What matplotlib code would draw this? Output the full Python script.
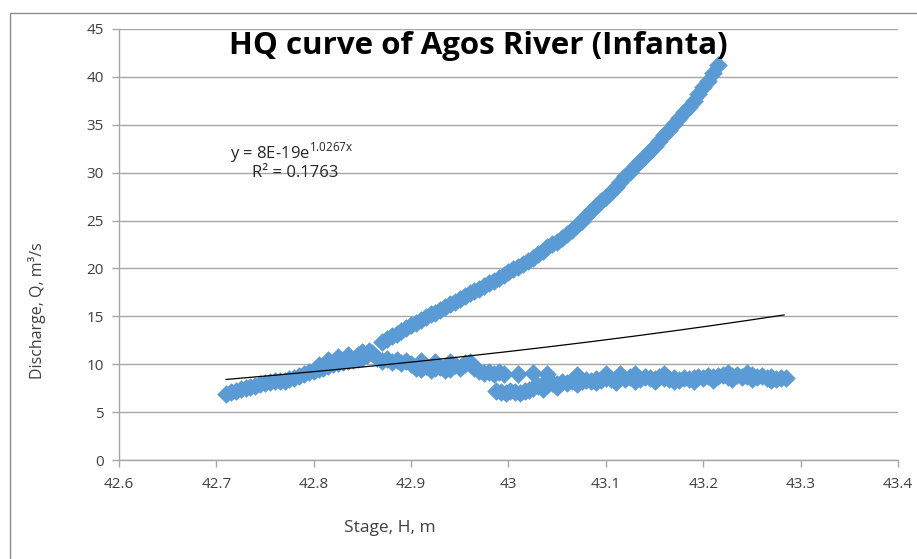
import matplotlib.pyplot as plt
from matplotlib.patches import Rectangle
import numpy as np

plt.rcParams["font.family"] = ["Open Sans", "DejaVu Sans"]
plt.rcParams["mathtext.fontset"] = "custom"
plt.rcParams["mathtext.rm"] = "Open Sans"

# rising limb at low stage (two readings at some stages)
rise_h = [42.710, 42.715, 42.720, 42.725, 42.730, 42.735, 42.740, 42.745, 42.750, 42.755,
          42.760, 42.765, 42.770, 42.775, 42.780, 42.785, 42.790, 42.795, 42.800, 42.805,
          42.810, 42.815, 42.820, 42.825, 42.830, 42.835, 42.840, 42.845, 42.850, 42.855,
          42.860, 42.805, 42.815, 42.825, 42.835, 42.845, 42.850, 42.857]
rise_q = [6.9, 7.1, 7.2, 7.4, 7.5, 7.6, 7.7, 7.9, 8.0, 8.1,
          8.2, 8.3, 8.3, 8.5, 8.6, 8.8, 9.0, 9.2, 9.3, 9.5,
          9.6, 9.8, 10.0, 10.1, 10.2, 10.3, 10.4, 10.5, 10.7, 11.0,
          11.2, 9.9, 10.4, 10.8, 11.0, 11.0, 11.3, 11.4]

# upper rating branch
upper_h = [42.870, 42.875, 42.880, 42.885, 42.890, 42.895, 42.900, 42.905, 42.910, 42.915,
           42.920, 42.925, 42.930, 42.935, 42.940, 42.945, 42.950, 42.955, 42.960, 42.965,
           42.970, 42.975, 42.980, 42.985, 42.990, 42.995, 43.000, 43.005, 43.010, 43.015,
           43.020, 43.025, 43.030, 43.035, 43.040, 43.045, 43.050, 43.055, 43.060, 43.065,
           43.070, 43.075, 43.080, 43.085, 43.090, 43.095, 43.100, 43.105, 43.110, 43.115,
           43.120, 43.125, 43.130, 43.135, 43.140, 43.145, 43.150, 43.155, 43.160, 43.165,
           43.170, 43.175, 43.180, 43.185, 43.190, 43.195, 43.200, 43.205, 43.210, 43.215]
upper_q = [12.3, 12.6, 12.9, 13.2, 13.5, 13.8, 14.1, 14.3, 14.6, 14.9,
           15.2, 15.4, 15.7, 16.0, 16.3, 16.5, 16.8, 17.1, 17.4, 17.6,
           17.9, 18.2, 18.5, 18.7, 19.0, 19.3, 19.6, 19.9, 20.2, 20.5,
           20.8, 21.1, 21.5, 21.8, 22.2, 22.5, 22.8, 23.2, 23.6, 24.0,
           24.5, 25.0, 25.5, 26.0, 26.5, 27.0, 27.5, 28.0, 28.5, 29.0,
           29.6, 30.1, 30.7, 31.2, 31.7, 32.3, 32.8, 33.3, 33.9, 34.5,
           35.1, 35.7, 36.3, 36.9, 37.5, 38.2, 38.9, 39.6, 40.4, 41.2]

# falling limb and low flat branch
lower_h = [42.865, 42.870, 42.875, 42.880, 42.885, 42.890, 42.895, 42.900, 42.905, 42.910,
           42.915, 42.920, 42.925, 42.930, 42.935, 42.940, 42.945, 42.950, 42.955, 42.960,
           42.965, 42.970, 42.975, 42.980, 42.985, 42.990, 42.995,
           42.910, 42.925, 42.940, 42.955,
           43.010, 43.025, 43.040,
           42.987, 42.992, 42.997, 43.002, 43.007, 43.012, 43.017, 43.021,
           43.025, 43.030, 43.035, 43.040, 43.045, 43.050, 43.055, 43.060, 43.065, 43.070,
           43.075, 43.080, 43.085, 43.090, 43.095, 43.100, 43.105, 43.110, 43.115, 43.120,
           43.125, 43.130, 43.135, 43.140, 43.145, 43.150, 43.155, 43.160, 43.165, 43.170,
           43.175, 43.180, 43.185, 43.190, 43.195, 43.200, 43.205, 43.210, 43.215, 43.220,
           43.225, 43.230, 43.235, 43.240, 43.245, 43.250, 43.255, 43.260, 43.265, 43.270,
           43.275, 43.280, 43.285,
           43.035, 43.050, 43.070, 43.090, 43.110, 43.130, 43.150, 43.170, 43.190, 43.210,
           43.230, 43.250, 43.270,
           43.070, 43.100, 43.115, 43.130, 43.160, 43.225, 43.245]
lower_q = [10.6, 10.3, 10.5, 10.2, 10.4, 10.1, 10.3, 10.0, 9.6, 9.5,
           9.8, 9.4, 9.6, 9.7, 9.4, 9.5, 9.9, 9.6, 10.0, 10.2,
           9.6, 9.3, 9.1, 9.2, 9.0, 9.2, 9.0,
           10.3, 10.2, 10.2, 10.1,
           9.0, 9.1, 9.0,
           7.2, 7.1, 7.0, 7.2, 7.1, 7.0, 7.2, 7.3,
           7.5, 7.7, 7.9, 7.8, 8.0, 7.9, 8.1, 8.0, 8.2, 8.3,
           8.2, 8.4, 8.3, 8.5, 8.4, 8.6, 8.5, 8.4, 8.6, 8.5,
           8.7, 8.6, 8.5, 8.7, 8.6, 8.5, 8.7, 8.6, 8.5, 8.6,
           8.4, 8.6, 8.5, 8.6, 8.7, 8.6, 8.8, 8.7, 8.8, 8.9,
           8.7, 8.8, 8.9, 8.7, 8.8, 8.9, 8.7, 8.8, 8.6, 8.7,
           8.5, 8.6, 8.6,
           7.4, 7.6, 7.9, 8.1, 8.1, 8.2, 8.2, 8.2, 8.3, 8.4,
           8.5, 8.5, 8.4,
           8.9, 9.0, 9.0, 9.0, 9.0, 9.1, 9.1]

# exponential trendline as reported by the spreadsheet
trend_a = 7.6e-19
trend_b = 1.0267
trend_range = (42.71, 43.283)

x_ticks = [42.6, 42.7, 42.8, 42.9, 43.0, 43.1, 43.2, 43.3, 43.4]
x_labels = ["42.6", "42.7", "42.8", "42.9", "43", "43.1", "43.2", "43.3", "43.4"]
y_ticks = [0, 5, 10, 15, 20, 25, 30, 35, 40, 45]

W, H = 917, 559
fig = plt.figure(figsize=(W / 100, H / 100), dpi=100)

# outer chart border
fig.patches.append(Rectangle((10 / W, -0.1), 1.2, 1.1 - 13 / H, transform=fig.transFigure,
                             fill=False, edgecolor="#8c8c8c", linewidth=1.0))

ax = fig.add_axes([119 / W, 1 - 460 / H, 779 / W, 431 / H])

stage = np.array(rise_h + upper_h + lower_h)
discharge = np.array(rise_q + upper_q + lower_q)
ax.scatter(stage, discharge, marker="D", s=90, color="#5B9BD5", linewidths=0, zorder=2)

th = np.linspace(trend_range[0], trend_range[1], 200)
ax.plot(th, trend_a * np.exp(trend_b * th), color="black", lw=0.9, zorder=3)

ax.set_xlim(42.6, 43.4)
ax.set_ylim(0, 45)
ax.set_xticks(x_ticks)
ax.set_xticklabels(x_labels)
ax.set_yticks(y_ticks)
ax.grid(axis="y", color="#a6a6a6", linewidth=1.0, zorder=0)
ax.set_axisbelow(True)
for s in ["top", "right"]:
    ax.spines[s].set_visible(False)
for s in ["left", "bottom"]:
    ax.spines[s].set_color("#a6a6a6")
    ax.spines[s].set_linewidth(1.0)
ax.tick_params(axis="both", colors="#a6a6a6", length=5, width=1.0, labelsize=11,
               labelcolor="#404040")
ax.tick_params(axis="x", pad=7)
ax.tick_params(axis="y", pad=6)

fig.text(478 / W, 1 - 46 / H, "HQ curve of Agos River (Infanta)", fontsize=22.5,
         fontweight="bold", ha="center", va="center", color="black")
fig.text(37 / W, 1 - 311 / H, "Discharge, Q, m³/s", rotation=90, fontsize=11.5,
         ha="center", va="center", color="#404040")
fig.text(390 / W, 1 - 528 / H, "Stage, H, m", fontsize=12.5, ha="center", va="center",
         color="#404040")
fig.text(230 / W, 1 - 153 / H, r"y = 8E-19e$^{\mathrm{1.0267x}}$", fontsize=12,
         ha="left", va="center", color="#262626")
fig.text(252 / W, 1 - 173 / H, "R² = 0.1763", fontsize=12, ha="left", va="center",
         color="#262626")

fig.savefig("out.png", dpi=100)
